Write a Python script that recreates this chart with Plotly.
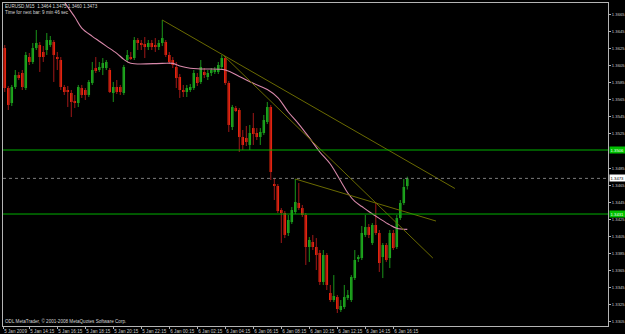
import plotly.graph_objects as go

# ---------------- data ----------------
bar_index = list(range(-7, 109))  # 15-minute bars, 0 = 5 Jan 14:15

open_ = [1.36255, 1.35787, 1.35612, 1.35799, 1.35939, 1.35963, 1.35787, 1.36150, 1.36092, 1.36255,
         1.36291, 1.36209, 1.36232, 1.36291, 1.36326, 1.36150, 1.36115, 1.35799, 1.35764, 1.35729,
         1.35624, 1.35612, 1.35787, 1.35764, 1.35706, 1.35846, 1.36021, 1.35998, 1.36021, 1.36021,
         1.35998, 1.35729, 1.35799, 1.35799, 1.35729, 1.36115, 1.36150, 1.36138, 1.36349, 1.36314,
         1.36302, 1.36267, 1.36314, 1.36291, 1.36267, 1.36314, 1.36326, 1.36174, 1.36115, 1.36033,
         1.35916, 1.35764, 1.35741, 1.35764, 1.35787, 1.35916, 1.35858, 1.35975, 1.35916, 1.35963,
         1.35975, 1.35975, 1.36033, 1.36138, 1.35846, 1.35331, 1.35553, 1.35530, 1.35214, 1.35203,
         1.35121, 1.35319, 1.35261, 1.35214, 1.35261, 1.35390, 1.35565, 1.34664, 1.34641, 1.34360,
         1.34325, 1.34091, 1.34219, 1.34337, 1.34442, 1.34383, 1.34302, 1.33927, 1.33986, 1.33927,
         1.33857, 1.33518, 1.33834, 1.33389, 1.33307, 1.33342, 1.33190, 1.33225, 1.33331, 1.33307,
         1.33564, 1.33787, 1.33798, 1.34068, 1.34161, 1.33974, 1.34185, 1.34091, 1.33810, 1.33951,
         1.33798, 1.34091, 1.33927, 1.34266, 1.34442, 1.3464]
high = [1.36291, 1.35811, 1.35823, 1.35998, 1.35975, 1.35998, 1.36209, 1.36197, 1.36314, 1.36466,
        1.36326, 1.36279, 1.36431, 1.36396, 1.36349, 1.36209, 1.36150, 1.35823, 1.35811, 1.35764,
        1.35706, 1.35823, 1.35823, 1.35787, 1.35881, 1.36092, 1.36150, 1.36092, 1.36138, 1.36115,
        1.36021, 1.35858, 1.35881, 1.35823, 1.36057, 1.36232, 1.36209, 1.36384, 1.36372, 1.36349,
        1.36384, 1.36349, 1.36349, 1.36372, 1.36349, 1.36583, 1.36349, 1.36209, 1.36150, 1.36092,
        1.35951, 1.35823, 1.35823, 1.35834, 1.35998, 1.35963, 1.36115, 1.36021, 1.35998, 1.36021,
        1.36033, 1.36092, 1.36174, 1.36162, 1.35869, 1.35589, 1.35577, 1.35553, 1.35296, 1.35343,
        1.35355, 1.35495, 1.35319, 1.35319, 1.35472, 1.35624, 1.35589, 1.34734, 1.34664, 1.34383,
        1.34348, 1.34302, 1.34395, 1.34723, 1.34676, 1.34419, 1.34325, 1.34044, 1.34068, 1.34032,
        1.33892, 1.33892, 1.33857, 1.33483, 1.33599, 1.33366, 1.33307, 1.33483, 1.33424, 1.33599,
        1.33892, 1.33834, 1.34173, 1.34302, 1.34196, 1.34208, 1.34454, 1.34126, 1.33974, 1.33974,
        1.34126, 1.34126, 1.34302, 1.34477, 1.34723, 1.3475]
low = [1.35741, 1.35530, 1.35577, 1.35776, 1.35881, 1.35764, 1.35764, 1.36057, 1.36068, 1.36232,
       1.35975, 1.36092, 1.36174, 1.36267, 1.35858, 1.35998, 1.35764, 1.35706, 1.35565, 1.35448,
       1.35553, 1.35565, 1.35671, 1.35647, 1.35682, 1.35823, 1.35963, 1.35975, 1.35939, 1.35998,
       1.35729, 1.35624, 1.35717, 1.35706, 1.35706, 1.36092, 1.36115, 1.36115, 1.36232, 1.36232,
       1.36138, 1.36232, 1.36232, 1.36209, 1.36232, 1.36279, 1.36150, 1.36068, 1.36021, 1.35787,
       1.35671, 1.35682, 1.35682, 1.35741, 1.35764, 1.35811, 1.35834, 1.35904, 1.35881, 1.35928,
       1.35951, 1.35951, 1.36010, 1.35823, 1.35273, 1.35296, 1.35507, 1.35039, 1.35062, 1.35109,
       1.35062, 1.35121, 1.35179, 1.35121, 1.35238, 1.35366, 1.34711, 1.34477, 1.34325, 1.33974,
       1.34032, 1.34056, 1.34196, 1.34313, 1.34360, 1.34278, 1.33717, 1.33752, 1.33892, 1.33658,
       1.33483, 1.33483, 1.33424, 1.33284, 1.33284, 1.33155, 1.33167, 1.33202, 1.33307, 1.33284,
       1.33541, 1.33752, 1.33775, 1.34044, 1.34032, 1.33951, 1.34068, 1.33635, 1.33564, 1.33752,
       1.33681, 1.33892, 1.33904, 1.34243, 1.34419, 1.3460]
close = [1.35787, 1.35589, 1.35799, 1.35939, 1.35916, 1.35799, 1.36174, 1.36092, 1.36255, 1.36314,
         1.36150, 1.36150, 1.36349, 1.36349, 1.36174, 1.36138, 1.35799, 1.35741, 1.35741, 1.35624,
         1.35612, 1.35799, 1.35706, 1.35706, 1.35858, 1.35998, 1.35998, 1.36033, 1.36080, 1.36092,
         1.35741, 1.35799, 1.35741, 1.35741, 1.36033, 1.36174, 1.36138, 1.36349, 1.36314, 1.36291,
         1.36267, 1.36314, 1.36267, 1.36267, 1.36314, 1.36372, 1.36174, 1.36092, 1.36057, 1.35904,
         1.35764, 1.35741, 1.35787, 1.35799, 1.35963, 1.35846, 1.36033, 1.35939, 1.35963, 1.35998,
         1.35998, 1.36057, 1.36138, 1.35846, 1.35355, 1.35565, 1.35530, 1.35214, 1.35121, 1.35156,
         1.35261, 1.35249, 1.35214, 1.35273, 1.35413, 1.35565, 1.34805, 1.34641, 1.34348, 1.34325,
         1.34068, 1.34243, 1.34360, 1.34454, 1.34383, 1.34302, 1.33927, 1.34009, 1.33927, 1.33834,
         1.33518, 1.33834, 1.33483, 1.33307, 1.33354, 1.33202, 1.33237, 1.33342, 1.33366, 1.33576,
         1.33775, 1.33810, 1.34091, 1.34161, 1.34068, 1.34185, 1.34091, 1.33740, 1.33951, 1.33775,
         1.34091, 1.33915, 1.34266, 1.34442, 1.34629, 1.3473]

ma_index = [7, 10, 13, 15, 18, 20, 22, 25, 27, 29, 38, 41, 43, 46, 49, 56, 60, 64, 68, 71,
            74, 77, 80, 83, 86, 89, 91, 93, 95, 97, 100, 103, 105, 108]
ma_value = [1.36981, 1.36794, 1.36618, 1.36489, 1.36392, 1.36335, 1.36278, 1.36193, 1.36123, 1.36076,
            1.36076, 1.36076, 1.36045, 1.36018, 1.36010, 1.35998, 1.35923, 1.35842, 1.35770, 1.35676,
            1.35507, 1.35366, 1.35206, 1.35039, 1.34898, 1.34696, 1.34559, 1.34460, 1.34401, 1.34343,
            1.34262, 1.34186, 1.34146, 1.34134]

trend1_x = [38, 121.6]
trend1_y = [1.36583, 1.34612]
trend2_x = [55.5, 115.3]
trend2_y = [1.36168, 1.33798]
trend3_x = [76, 116.2]
trend3_y = [1.34723, 1.34231]

level_prices = [1.35062, 1.34313]
bid_price = 1.3473

time_tick_pos = [-7.45, 0, 8, 16, 24, 32, 40, 48, 56, 64, 72, 80, 88, 96, 104]
time_tick_text = ["5 Jan 2009", "5 Jan 14:15", "5 Jan 16:15", "5 Jan 18:15", "5 Jan 20:15",
                  "5 Jan 22:15", "6 Jan 00:15", "6 Jan 02:15", "6 Jan 04:15", "6 Jan 06:15",
                  "6 Jan 08:15", "6 Jan 10:15", "6 Jan 12:15", "6 Jan 14:15", "6 Jan 16:15"]
# 1.3505 is hidden behind the level label in the reference
price_ticks = [1.3305, 1.3325, 1.3345, 1.3365, 1.3385, 1.3405, 1.3425, 1.3445, 1.3465,
               1.3485, 1.3525, 1.3545, 1.3565, 1.3585, 1.3605, 1.3625, 1.3645, 1.3665]

header_text = "EURUSD,M15  1.3464 1.3475 1.3460 1.3473<br>Time for next bar: 9 min 46 sec"
footer_text = "ODL MetaTrader, \u00a9 2001-2008 MetaQuotes Software Corp."

# ---------------- styling ----------------
UP_BODY, UP_WICK = "#20ac20", "#1a941a"
DN_BODY, DN_WICK = "#ff2a0a", "#a01818"
AX = "#b4b4b4"
FONT = "Liberation Sans"
FS = 4.6
FSY = 4.2

fig = go.Figure()

for up in (True, False):
    xs_w, ys_w, xs_b, base_b, h_b = [], [], [], [], []
    for i, o, hi, lo, c in zip(bar_index, open_, high, low, close):
        if (c >= o) != up:
            continue
        xs_w += [i, i, None]
        ys_w += [lo, hi, None]
        xs_b.append(i)
        base_b.append(min(o, c))
        h_b.append(max(abs(c - o), 0.00009))
    fig.add_trace(go.Scatter(x=xs_w, y=ys_w, mode="lines",
                             line=dict(color=UP_WICK if up else DN_WICK, width=1),
                             hoverinfo="skip"))
    fig.add_trace(go.Bar(x=xs_b, y=h_b, base=base_b, width=0.72,
                         marker=dict(color=UP_BODY if up else DN_BODY, line=dict(width=0))))

fig.add_trace(go.Scatter(x=ma_index, y=ma_value, mode="lines",
                         line=dict(color="#d888aa", width=1.1), line_shape="spline"))

for tx, ty in ((trend1_x, trend1_y), (trend2_x, trend2_y), (trend3_x, trend3_y)):
    fig.add_trace(go.Scatter(x=tx, y=ty, mode="lines", line=dict(color="#6a6a00", width=1)))

shapes = []
for p in level_prices:
    shapes.append(dict(type="line", xref="paper", x0=0, x1=1, yref="y", y0=p, y1=p,
                       line=dict(color="#00b000", width=1)))
shapes.append(dict(type="line", xref="paper", x0=0, x1=1, yref="y", y0=bid_price, y1=bid_price,
                   line=dict(color="#7c7c7c", width=1, dash="dot")))

annotations = [
    dict(text=header_text, xref="paper", yref="paper", x=0, y=1, xanchor="left", yanchor="top",
         xshift=1, yshift=0, showarrow=False, align="left", borderpad=0,
         font=dict(family=FONT, size=FS, color="#d8d8d8")),
    dict(text=footer_text, xref="paper", yref="paper", x=0, y=0, xanchor="left", yanchor="bottom",
         xshift=1, yshift=1, showarrow=False, align="left", borderpad=0,
         font=dict(family=FONT, size=FS, color="#d8d8d8")),
]
for p in level_prices:
    annotations.append(dict(text=f"{p:.4f}", xref="paper", yref="y", x=1, y=p, xanchor="left",
                            yanchor="middle", xshift=1, showarrow=False, bgcolor="#00c000",
                            borderpad=0.6, font=dict(family=FONT, size=FSY, color="#f0fff0")))
annotations.append(dict(text=f"{bid_price:.4f}", xref="paper", yref="y", x=1, y=bid_price,
                        xanchor="left", yanchor="middle", xshift=1, showarrow=False,
                        bgcolor="#ffffff", borderpad=0.6,
                        font=dict(family=FONT, size=FSY, color="#000000")))

fig.update_layout(
    width=625, height=334,
    margin=dict(l=3, r=17, t=3, b=8, autoexpand=False),
    paper_bgcolor="#000000", plot_bgcolor="#000000",
    showlegend=False, barmode="overlay",
    shapes=shapes, annotations=annotations,
    xaxis=dict(range=[-7.51, 165.34], showgrid=False, zeroline=False, automargin=False,
               showline=True, mirror=True, linecolor=AX, linewidth=1,
               tickmode="array", tickvals=time_tick_pos, ticktext=time_tick_text,
               tickangle=0, ticks="outside", ticklen=2, tickcolor=AX,
               ticklabelposition="outside right",
               tickfont=dict(family=FONT, size=FS, color="#c8c8c8")),
    yaxis=dict(range=[1.33003, 1.36782], side="right", showgrid=False, zeroline=False,
               automargin=False,
               showline=True, mirror=True, linecolor=AX, linewidth=1,
               tickmode="array", tickvals=price_ticks, ticktext=[f"{v:.4f}" for v in price_ticks],
               ticks="outside", ticklen=2, tickcolor=AX, ticklabelstandoff=0,
               tickfont=dict(family=FONT, size=FSY, color="#c8c8c8")),
)

fig.write_html("out.html")
